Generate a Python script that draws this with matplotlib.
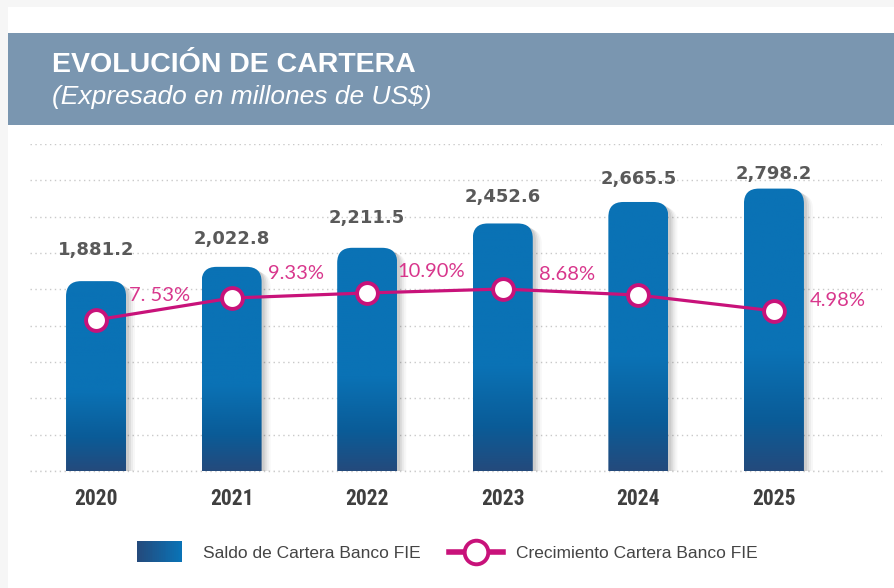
import numpy as np
import matplotlib
matplotlib.use("Agg")
import matplotlib.pyplot as plt
from matplotlib.patches import FancyBboxPatch, Rectangle
from matplotlib.lines import Line2D
from matplotlib.colors import LinearSegmentedColormap, to_rgb
from matplotlib.legend_handler import HandlerBase

years       = ["2020", "2021", "2022", "2023", "2024", "2025"]
saldo       = [1881.2, 2022.8, 2211.5, 2452.6, 2665.5, 2798.2]
saldo_txt   = ["1,881.2", "2,022.8", "2,211.5", "2,452.6", "2,665.5", "2,798.2"]
# growth line as drawn (secondary scale)
growth_line = [9.24, 10.58, 10.89, 11.13, 10.76, 9.79]
growth_txt  = ["7. 53%", "9.33%", "10.90%", "8.68%", "", "4.98%"]

W, H = 894, 588
BLUE    = "#0a72b5"
DARK    = "#244a7c"
MAGENTA = "#c8127a"
PINK    = "#d8368c"

bar_cmap = LinearSegmentedColormap.from_list(
    "bar", [(0.0, DARK), (0.18, "#0a5c98"), (0.42, BLUE), (1.0, BLUE)])


class GradientBoxHandler(HandlerBase):
    def create_artists(self, legend, orig_handle, xdescent, ydescent,
                       width, height, fontsize, trans):
        bw = width * 0.83
        bh = height * 1.75
        y0 = -ydescent + (height - bh) / 2
        n = 24
        c0, c1 = np.array(to_rgb(DARK)), np.array(to_rgb(BLUE))
        arts = []
        for i in range(n):
            t = i / (n - 1)
            r = Rectangle((-xdescent + bw * i / n, y0), bw / n + 0.3, bh,
                          facecolor=c0 * (1 - t) + c1 * t, edgecolor="none",
                          transform=trans)
            arts.append(r)
        return arts


fig = plt.figure(figsize=(W / 100, H / 100), dpi=100)
fig.patch.set_facecolor("#f6f6f6")

# white card + header band
fig.add_artist(Rectangle((8 / W, 0), 1, 1 - 7 / H, transform=fig.transFigure,
                         facecolor="white", edgecolor="none", zorder=0))
fig.add_artist(Rectangle((8 / W, 1 - 125 / H), 1, 92 / H, transform=fig.transFigure,
                         facecolor="#7a96b0", edgecolor="none", zorder=1))
fig.text(52 / W, 1 - 65 / H, "EVOLUCIÓN DE CARTERA", color="white",
         fontsize=20.5, fontweight="bold", family="Liberation Sans",
         va="center", ha="left")
fig.text(52 / W, 1 - 97 / H, "(Expresado en millones de US$)", color="white",
         fontsize=19, style="italic", family="Liberation Sans",
         va="center", ha="left")

ax = fig.add_axes([30 / W, (H - 471) / H, 852 / W, 327 / H])
ax.set_facecolor("none")
x = np.arange(len(years))
xlim = (-0.487, 5.797)
ylim = (0, 3240)
px_x = (xlim[1] - xlim[0]) / 852
px_y = (ylim[1] - ylim[0]) / 327
bw = 60 * px_x
rad = 15 * px_x
asp = px_y / px_x

for xi, v in zip(x, saldo):
    # soft shadow on the right
    for k, a in zip([3, 5, 7, 9], [0.08, 0.06, 0.045, 0.03]):
        sh = FancyBboxPatch((xi - bw / 2 + k * px_x, -400), bw, v + 400 - k * px_y * 0.6,
                            boxstyle=f"round,pad=0,rounding_size={rad}",
                            mutation_aspect=asp, facecolor="black", alpha=a,
                            edgecolor="none", zorder=1)
        ax.add_patch(sh)
    clip = FancyBboxPatch((xi - bw / 2, -400), bw, v + 400,
                          boxstyle=f"round,pad=0,rounding_size={rad}",
                          mutation_aspect=asp, facecolor="none",
                          edgecolor="none", zorder=2)
    ax.add_patch(clip)
    grad = np.linspace(0, 1, 256).reshape(-1, 1)
    im = ax.imshow(grad, cmap=bar_cmap, origin="lower", aspect="auto",
                   extent=[xi - bw / 2, xi + bw / 2, 0, v], zorder=2)
    im.set_clip_path(clip)

label_dy = [31, 28, 30, 26, 23, 15]
for xi, v, t, dy in zip(x, saldo, saldo_txt, label_dy):
    ax.annotate(t, (xi, v), xytext=(0, dy), textcoords="offset pixels",
                ha="center", va="center", fontsize=13, fontweight="bold",
                color="#595959", family="DejaVu Sans")

ax.set_xlim(*xlim)
ax.set_ylim(*ylim)
ax.set_yticks(np.arange(0, 3241, 360))
ax.yaxis.grid(True, linestyle=(0, (1, 2.5)), color="#c9c9c9", linewidth=1)
ax.axhline(0, linestyle=(0, (1, 2.5)), color="#c9c9c9", linewidth=1,
           clip_on=False, zorder=0)
ax.set_axisbelow(True)
ax.set_xticks(x)
ax.set_xticklabels(years, fontsize=15.5, fontweight="bold", color="#3f3f3f",
                   fontstretch="condensed",
                   family=["Liberation Sans Narrow", "Roboto Condensed",
                           "Open Sans Condensed", "Liberation Sans"])
for s in ax.spines.values():
    s.set_visible(False)

ax2 = ax.twinx()
ax2.set_ylim(0, 20)
ax2.set_xlim(*xlim)
ax2.axis("off")
ax.tick_params(axis="y", left=False, right=False, labelleft=False, labelright=False)
ax.tick_params(axis="x", bottom=False, pad=9)
ax2.plot(x, growth_line, color=MAGENTA, lw=2.3, marker="o", markersize=15,
         markerfacecolor="white", markeredgecolor=MAGENTA, markeredgewidth=2.8,
         zorder=5)
pct_dy = [24, 25, 21, 15, 0, 10]
for xi, g, t, dy in zip(x, growth_line, growth_txt, pct_dy):
    if t:
        ax2.annotate(t, (xi, g), xytext=(64, dy), textcoords="offset pixels",
                     ha="center", va="center", fontsize=14.5, color=PINK,
                     family="Lato")

handles = [Rectangle((0, 0), 1, 1),
           Line2D([], [], color=MAGENTA, lw=4, marker="o", markersize=17,
                  markerfacecolor="white", markeredgecolor=MAGENTA,
                  markeredgewidth=2.8)]
fig.legend(handles, ["Saldo de Cartera Banco FIE", "Crecimiento Cartera Banco FIE"],
           loc="center", bbox_to_anchor=(0.5, 1 - 553 / H), ncol=2,
           frameon=False, handlelength=3.1, handletextpad=0.75, columnspacing=1.6,
           prop={"family": "Liberation Sans", "size": 12.5},
           labelcolor="#444444",
           handler_map={Rectangle: GradientBoxHandler()})

fig.savefig("out.png", dpi=100, facecolor=fig.get_facecolor())
